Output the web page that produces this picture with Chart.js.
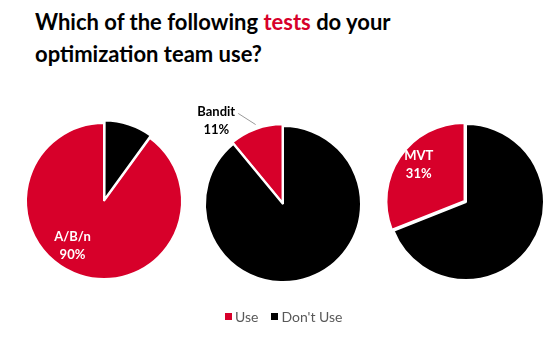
<!DOCTYPE html>
<html>
<head>
<meta charset="utf-8">
<script src="https://cdn.jsdelivr.net/npm/chart.js@4.4.1/dist/chart.umd.min.js"></script>
<style>
  body { margin: 0; background: #fff; width: 550px; height: 339px; position: relative; overflow: hidden; font-family: Lato, "Open Sans", sans-serif; }
  #title { position: absolute; left: 35px; top: 6px; font-weight: bold; font-size: 22px; line-height: 32px; color: #000; }
  #title span { color: #D7002A; }
  canvas { position: absolute; }
  #legend { position: absolute; top: 308px; left: 225px; font-size: 14px; color: #595959; display: flex; align-items: center; }
  #legend i { display: inline-block; width: 7px; height: 7px; margin-right: 3px; }
  #legend b { font-weight: normal; margin-right: 13px; }
</style>
</head>
<body>
<div id="title">Which of the following <span>tests</span> do your<br>optimization team use?</div>
<canvas id="pie0" width="220" height="220" style="left:-6px;top:91px"></canvas>
<canvas id="pie1" width="220" height="220" style="left:173px;top:94px"></canvas>
<canvas id="pie2" width="220" height="220" style="left:356px;top:92px"></canvas>
<div id="legend"></div>
<script>
// data
const categories = ['A/B/n', 'Bandit', 'MVT'];
const seriesNames = ['Use', "Don't Use"];
const useValues = [90, 11, 31];
const dontUseValues = [10, 89, 69];

const colors = ['#D7002A', '#000000'];

// per pie look: which slice is pulled out, where the label sits
const pieStyle = [
  { rotation: dontUseValues[0] * 3.6, offset: [0, 7], label: { angle: 215, r: 55, color: '#fff' } },
  { rotation: -useValues[1] * 3.6, offset: [5, 0], label: { angle: 321.4, r: 107, color: '#000', line: [[341, 84], [333.7, 101]] } },
  { rotation: -useValues[2] * 3.6, offset: [7, 0], label: { angle: 308, r: 60, color: '#fff' } },
];

const rad = (a) => (a - 90) * Math.PI / 180;

const sliceLabel = {
  id: 'sliceLabel',
  afterDatasetsDraw(chart, args, opts) {
    const arc = chart.getDatasetMeta(0).data[0];
    const {x, y} = arc.getProps(['x', 'y'], true);
    const ctx = chart.ctx;
    const lb = opts.label;
    ctx.save();
    if (lb.line) {
      ctx.strokeStyle = '#9a9a9a';
      ctx.lineWidth = 1;
      ctx.beginPath();
      lb.line.forEach(([a, r], k) => {
        const px = x + r * Math.cos(rad(a)), py = y + r * Math.sin(rad(a));
        k ? ctx.lineTo(px, py) : ctx.moveTo(px, py);
      });
      ctx.stroke();
    }
    const cx = x + lb.r * Math.cos(rad(lb.angle));
    const cy = y + lb.r * Math.sin(rad(lb.angle));
    ctx.fillStyle = lb.color;
    ctx.font = 'bold 13px Lato, "Open Sans", sans-serif';
    ctx.textAlign = 'center';
    ctx.textBaseline = 'middle';
    ctx.fillText(opts.text[0], cx, cy - 9);
    ctx.fillText(opts.text[1], cx, cy + 9);
    ctx.restore();
  }
};

categories.forEach((cat, i) => {
  const st = pieStyle[i];
  new Chart(document.getElementById('pie' + i), {
    type: 'pie',
    data: {
      labels: seriesNames,
      datasets: [{
        data: [useValues[i], dontUseValues[i]],
        backgroundColor: colors,
        borderColor: '#fff',
        borderWidth: 2,
        offset: st.offset,
      }]
    },
    options: {
      responsive: false,
      animation: false,
      devicePixelRatio: 1,
      radius: 78,
      rotation: st.rotation,
      layout: { padding: 0 },
      plugins: {
        legend: { display: false },
        tooltip: { enabled: false },
        sliceLabel: { label: st.label, text: [cat, useValues[i] + '%'] },
      }
    },
    plugins: [sliceLabel]
  });
});

// legend
const legend = document.getElementById('legend');
seriesNames.forEach((name, k) => {
  legend.innerHTML += `<i style="background:${colors[k]}"></i><b>${name}</b>`;
});
</script>
</body>
</html>
